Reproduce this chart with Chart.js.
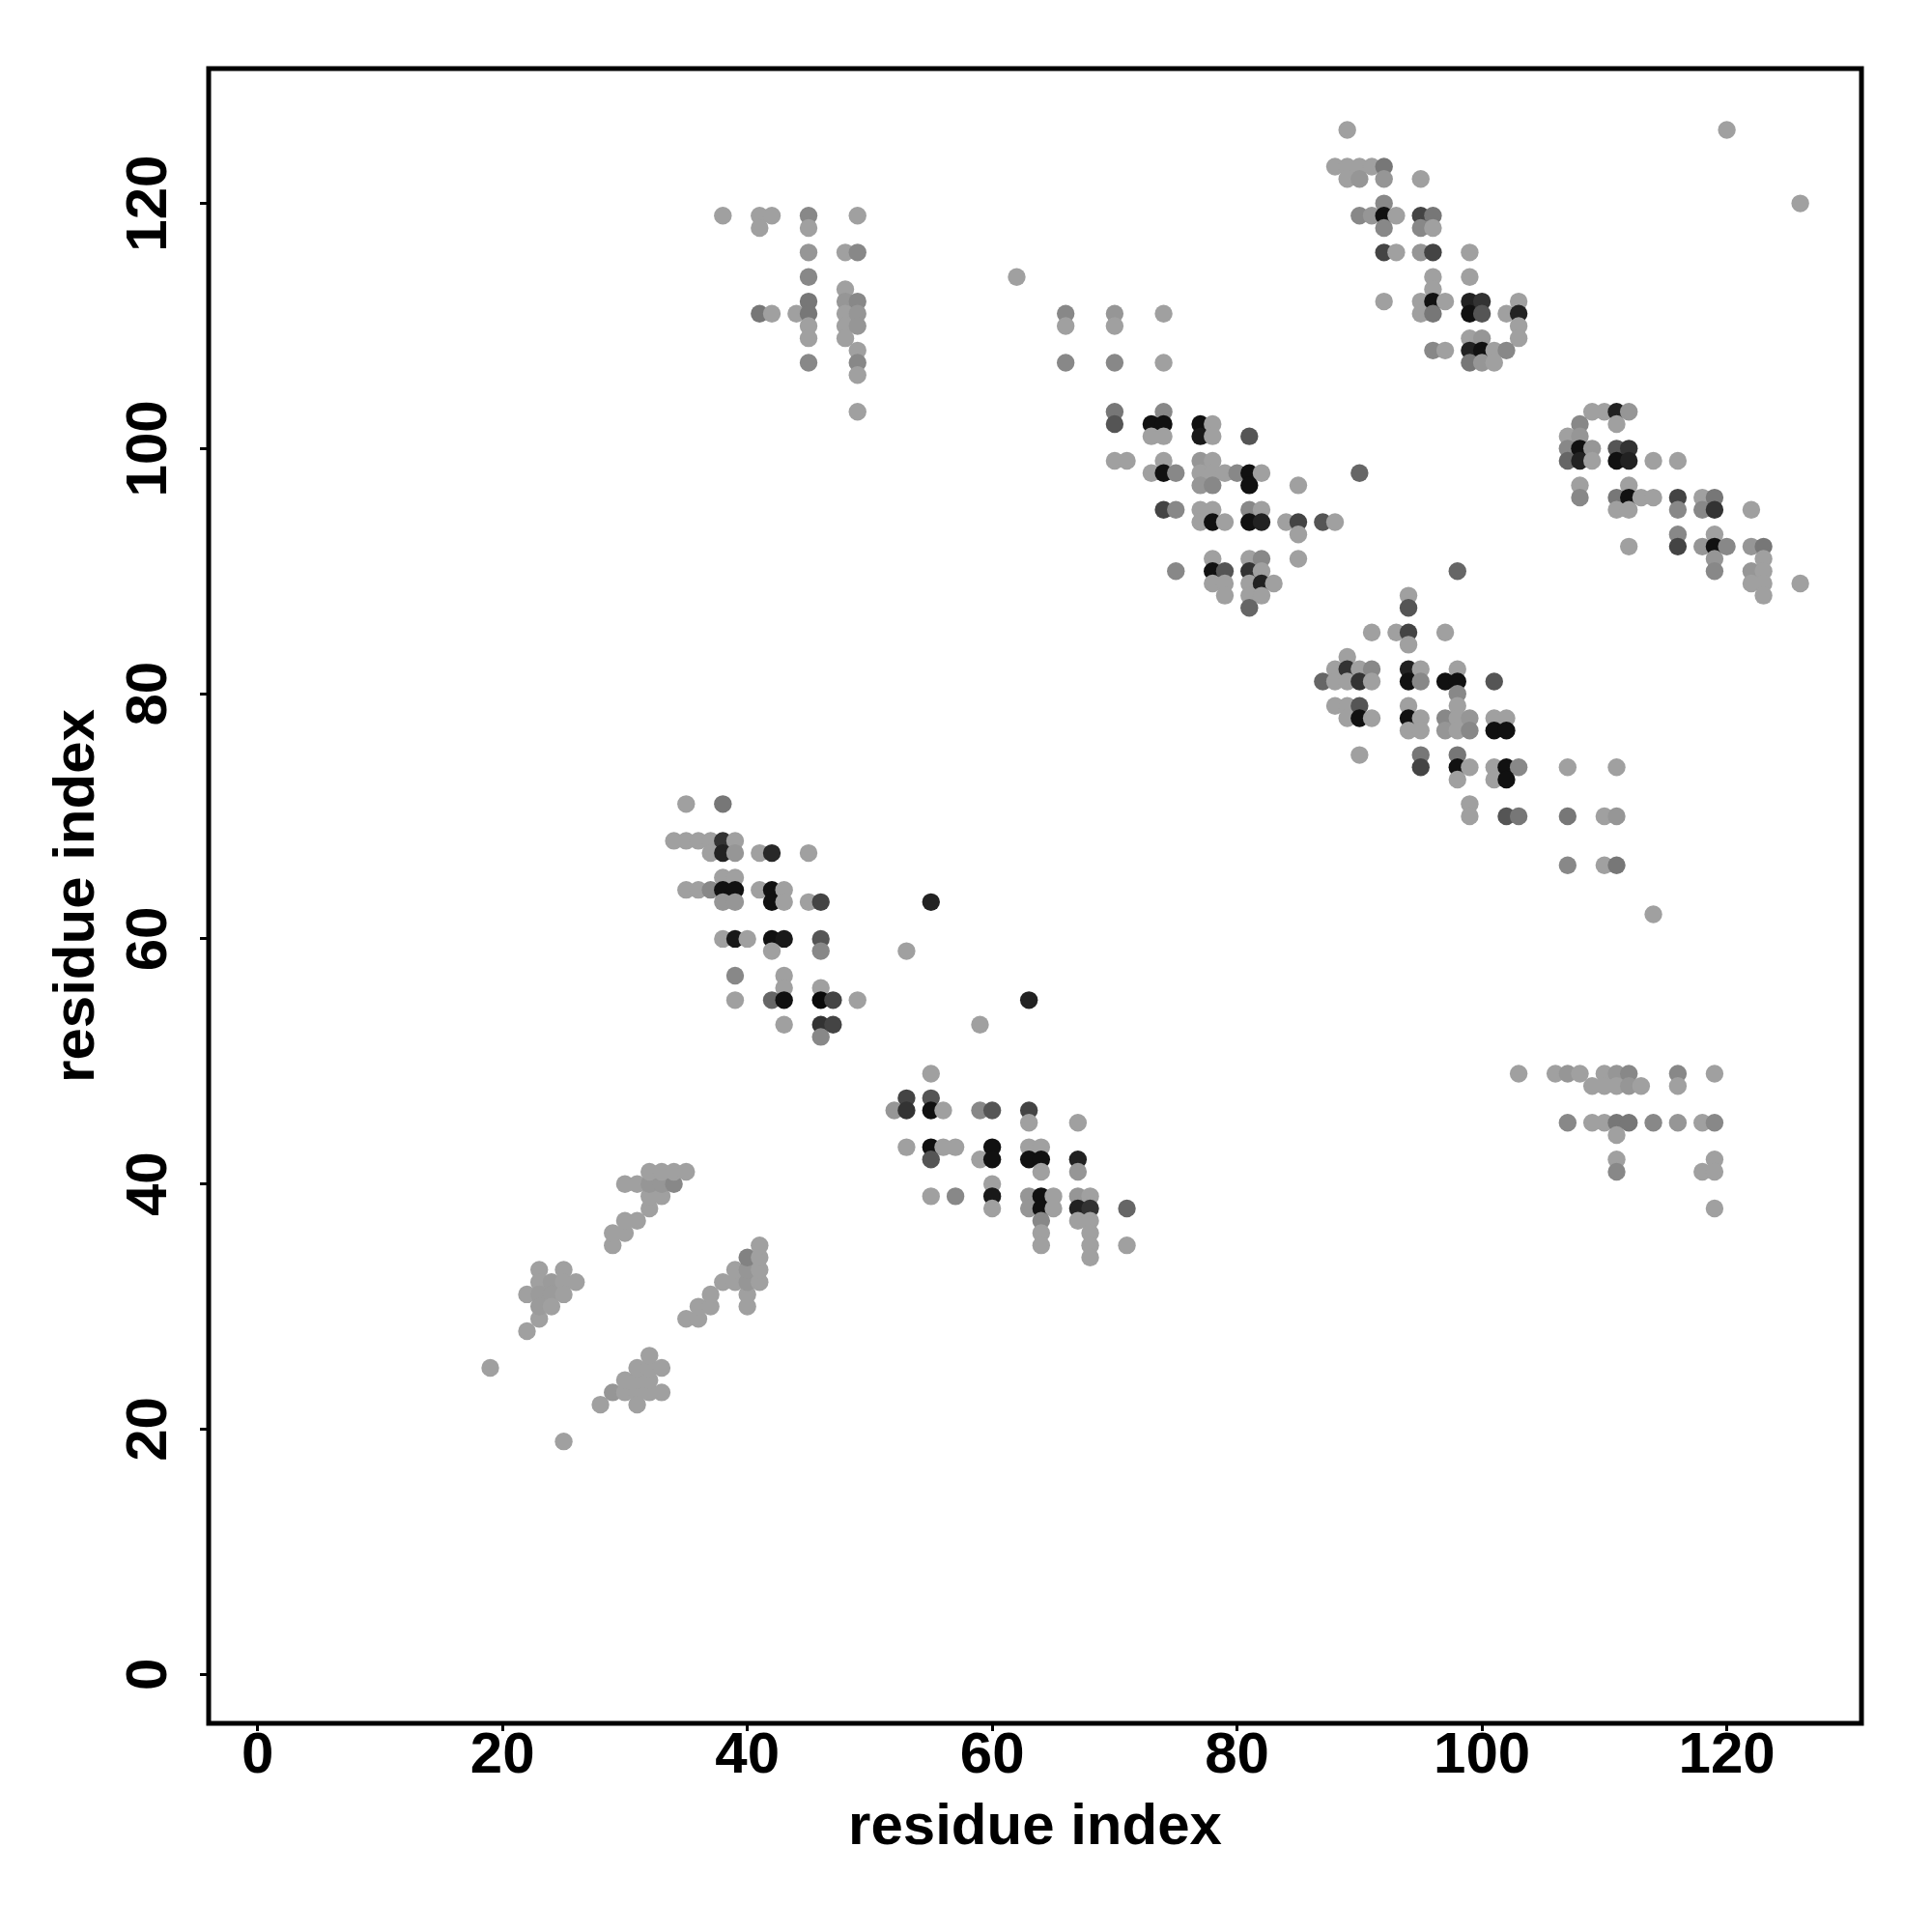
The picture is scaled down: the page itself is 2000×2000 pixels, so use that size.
<!DOCTYPE html>
<html>
<head>
<meta charset="utf-8">
<script src="https://cdn.jsdelivr.net/npm/chart.js@4/dist/chart.umd.min.js"></script>
<style>
  html, body { margin: 0; padding: 0; background: #ffffff; }
  #wrap { width: 2000px; height: 2000px; }
</style>
</head>
<body>
<div id="wrap"><canvas id="c" width="2000" height="2000"></canvas></div>
<script>
// ---- data (residue i, residue j, grey level 0..255) ----
const L = 160;
const resX = [
  19,25,22,23,23,25,23,24,25,26,22,23,24,25,23,24,
  28,29,30,31,32,33,30,31,32,31,32,33,32,31,
  29,29,30,30,31,32,32,33,30,31,32,33,34,32,33,34,35,
  35,36,36,37,37,38,39,39,40,40,40,40,40,41,41,41,41,
  35,38,34,35,36,37,38,39,37,38,39,41,42,45,38,39,
  35,36,37,38,39,41,42,43,38,39,42,43,45,46,
  38,39,40,42,43,46,42,46,39,43,43,46,
  39,42,43,46,47,49,43,46,47,46,
  53,55,59,63,
  55,53,55,52,53,55,56,59,60,63,63,67,
  53,55,56,57,60,63,64,55,59,60,63,64,67,64,67,60,
  55,57,60,63,64,65,67,68,60,63,64,65,67,68,71,
  64,67,68,64,68,64,68,71,68,
  38,41,42,45,49,41,45,45,48,49,45,48,45,48,49,
  41,42,44,45,48,49,45,48,49,45,48,49,45,49,49,49,
  62,
  66,70,74,66,70,66,70,74,70,74,
  70,73,74,77,78,73,74,77,78,81,
  70,71,74,77,78,73,74,75,77,78,79,80,81,82,90,
  77,78,81,85,74,75,77,78,81,82,
  77,78,79,81,82,84,85,87,88,85,
  78,81,82,85,75,78,79,81,82,78,79,81,82,83,79,81,82,81,
  98,94,94,91,93,94,97,94,89,
  88,89,90,91,94,95,98,
  87,88,89,90,91,94,95,97,98,101,98,
  88,89,90,94,98,
  89,90,91,94,95,97,98,99,101,102,
  94,95,97,98,99,101,102,
  90,95,98,95,98,99,101,102,103,98,101,102,99,99,102,103,
  89,88,89,90,91,92,89,90,92,95,92,
  90,91,92,93,95,96,92,95,96,
  92,93,95,96,99,96,99,96,
  92,95,96,97,99,100,103,95,96,99,100,102,103,103,
  99,100,103,96,97,99,100,101,102,99,100,101,
  109,110,111,112,108,111,107,108,
  107,108,109,111,112,107,108,109,111,112,114,116,
  108,112,108,111,112,113,114,116,118,119,
  111,112,116,118,119,122,116,119,
  112,116,118,119,120,122,123,119,123,119,122,123,122,123,126,123,
  103,106,107,108,110,111,112,116,119,109,110,111,112,113,116,
  107,109,110,111,112,114,116,118,119,111,111,119,111,118,119,119,
  107,111,107,110,111,107,110,111,
  114,120,126
];
const resY = [
  25,19,28,29,33,33,32,32,32,32,31,31,31,31,30,30,
  22,23,23,23,23,23,24,24,24,25,25,25,26,22,
  35,36,36,37,37,38,39,39,40,40,40,40,40,41,41,41,41,
  29,29,30,30,31,32,32,33,30,31,32,33,34,32,33,34,35,
  71,71,68,68,68,68,68,68,67,67,67,67,67,67,65,65,
  64,64,64,64,64,64,64,64,63,63,63,63,63,63,
  60,60,60,60,60,60,59,59,57,57,56,56,
  55,55,55,55,55,55,53,53,53,52,
  59,63,53,55,
  49,47,47,46,46,46,46,46,46,46,45,45,
  43,43,43,43,43,43,43,42,42,42,42,42,42,41,41,40,
  39,39,39,39,39,39,39,39,38,38,38,38,38,38,38,
  37,37,37,36,36,35,35,35,34,
  119,119,119,119,119,118,118,116,116,116,114,113,112,112,112,
  111,111,111,111,111,111,110,110,110,109,109,108,107,107,106,103,
  114,
  111,111,111,110,110,107,107,107,103,103,
  102,102,102,102,102,101,101,101,101,101,
  99,99,99,99,99,98,98,98,98,98,98,98,98,98,98,
  97,97,97,97,95,95,95,95,95,95,
  94,94,94,94,94,94,94,94,94,93,
  91,91,91,91,90,90,90,90,90,89,89,89,89,89,88,88,88,87,
  90,88,87,85,85,85,85,84,83,
  82,82,82,82,82,82,82,
  81,81,81,81,81,81,81,81,81,81,80,
  79,79,79,79,79,
  78,78,78,78,78,78,78,78,78,78,
  77,77,77,77,77,77,77,
  75,75,75,74,74,74,74,74,74,73,73,73,71,70,70,70,
  126,123,123,123,123,123,122,122,122,122,120,
  119,119,119,119,119,119,118,118,118,
  116,116,116,116,116,114,114,113,
  112,112,112,112,112,112,112,111,111,111,111,111,111,110,
  109,109,109,108,108,108,108,108,108,107,107,107,
  103,103,103,103,102,102,101,101,
  100,100,100,100,100,99,99,99,99,99,99,99,
  97,97,96,96,96,96,96,96,96,96,
  95,95,95,95,95,95,93,93,
  92,92,92,92,92,92,92,91,91,90,90,90,89,89,89,88,
  49,49,49,49,49,49,49,49,49,48,48,48,48,48,48,
  45,45,45,45,45,45,45,45,45,44,42,42,41,41,41,38,
  74,74,70,70,70,66,66,66,
  62,126,120
];
const shade = [
  L,L,L,L,L,L,L,155,L,L,L,155,155,L,155,L,
  L,150,L,L,L,L,L,L,L,L,L,L,L,L,
  L,L,L,L,L,L,L,L,L,L,150,150,136,L,L,L,L,
  L,L,L,L,L,L,L,L,L,L,150,150,130,L,L,L,L,
  L,119,L,L,L,L,51,L,L,34,150,L,40,L,L,L,
  L,L,136,17,17,L,17,L,150,150,17,L,L,68,
  L,25,L,17,25,85,L,136,136,L,L,L,
  L,102,17,10,68,L,L,51,68,136,
  L,34,L,34,
  L,68,85,150,51,17,L,136,85,68,L,L,
  L,17,L,L,17,L,L,85,L,17,17,17,34,L,150,L,
  L,136,25,150,17,L,150,L,L,150,17,L,34,51,102,
  136,L,L,L,L,L,L,L,L,
  L,L,L,136,L,L,L,150,L,136,136,L,119,150,136,
  119,L,L,119,L,150,L,L,150,L,L,L,136,136,L,L,
  L,
  136,150,L,L,L,136,136,L,119,136,
  85,17,17,17,L,L,L,25,L,85,
  L,L,L,150,L,L,17,136,L,L,L,136,17,L,102,
  150,136,17,L,68,136,L,L,136,L,
  L,17,L,17,34,L,68,85,L,L,
  L,L,136,L,136,17,85,51,L,L,L,L,34,L,L,L,L,102,
  102,L,85,L,L,68,L,L,L,
  L,51,L,136,34,L,L,
  102,L,L,51,L,17,136,17,17,85,136,
  L,L,85,L,L,
  L,17,L,17,L,136,L,150,L,L,
  L,L,150,L,136,17,17,
  L,119,119,68,17,L,L,17,136,L,L,17,L,L,85,119,
  L,L,L,L,L,119,L,150,150,L,136,
  136,150,17,L,68,119,136,136,L,
  68,L,150,68,L,L,L,L,
  L,L,17,L,34,51,L,L,119,17,85,L,34,L,
  L,150,L,136,L,34,17,L,136,119,150,L,
  L,L,34,150,136,L,L,150,
  136,17,150,85,51,102,34,L,17,34,L,L,
  L,L,136,119,17,L,L,68,L,119,
  L,L,136,136,51,L,136,L,
  L,68,150,17,136,150,119,150,L,136,150,L,L,L,L,L,
  L,L,150,L,L,150,136,136,L,L,L,L,150,L,L,
  136,L,L,119,119,136,150,L,136,L,L,L,136,L,L,L,
  L,L,119,L,150,136,L,119,
  L,L,L
];
const xTickValues = [0, 20, 40, 60, 80, 100, 120];
const yTickValues = [0, 20, 40, 60, 80, 100, 120];
const axisTitle = 'residue index';

// ---- build ----
const points = resX.map((x, i) => ({ x: x, y: resY[i] }));
const colors = shade.map(g => `rgb(${g},${g},${g})`);

const FONT = 'Liberation Sans, Arial, Helvetica, sans-serif';

const boxPlugin = {
  id: 'frameBox',
  afterDraw(chart) {
    const { ctx, chartArea: a } = chart;
    ctx.save();
    ctx.strokeStyle = '#000';
    ctx.lineWidth = 5;
    ctx.strokeRect(a.left, a.top, a.right - a.left, a.bottom - a.top);
    ctx.restore();
  }
};

new Chart(document.getElementById('c'), {
  type: 'scatter',
  data: {
    datasets: [{
      data: points,
      backgroundColor: colors,
      borderWidth: 0,
      pointRadius: 9.2,
      pointHoverRadius: 9.2,
      pointStyle: 'circle'
    }]
  },
  options: {
    responsive: false,
    animation: false,
    devicePixelRatio: 1,
    layout: { padding: { left: 0, top: 71, right: 73, bottom: 0 } },
    plugins: { legend: { display: false }, tooltip: { enabled: false } },
    scales: {
      x: {
        type: 'linear',
        min: -4,
        max: 131,
        afterFit(s) { s.height = 216; },
        afterBuildTicks(s) { s.ticks = xTickValues.map(v => ({ value: v })); },
        grid: { drawOnChartArea: false, drawTicks: true, tickLength: 8, tickWidth: 3, tickColor: '#000' },
        border: { display: false },
        ticks: {
          color: '#000',
          padding: -4,
          maxRotation: 0,
          font: { family: FONT, size: 60, weight: 'bold', lineHeight: 1 }
        },
        title: {
          display: true,
          text: axisTitle,
          color: '#000',
          padding: { top: 0, bottom: 78 },
          font: { family: FONT, size: 60, weight: 'bold', lineHeight: 1 }
        }
      },
      y: {
        type: 'linear',
        min: -4,
        max: 131,
        afterFit(s) { s.width = 216; },
        afterBuildTicks(s) { s.ticks = yTickValues.map(v => ({ value: v })); },
        grid: { drawOnChartArea: false, drawTicks: true, tickLength: 9, tickWidth: 3, tickColor: '#000' },
        border: { display: false },
        ticks: {
          color: '#000',
          padding: 1,
          minRotation: 90,
          maxRotation: 90,
          crossAlign: 'center',
          font: { family: FONT, size: 60, weight: 'bold', lineHeight: 1 }
        },
        title: {
          display: true,
          text: axisTitle,
          color: '#000',
          padding: { top: 50, bottom: 0 },
          font: { family: FONT, size: 60, weight: 'bold', lineHeight: 1 }
        }
      }
    }
  },
  plugins: [boxPlugin]
});
</script>
</body>
</html>
